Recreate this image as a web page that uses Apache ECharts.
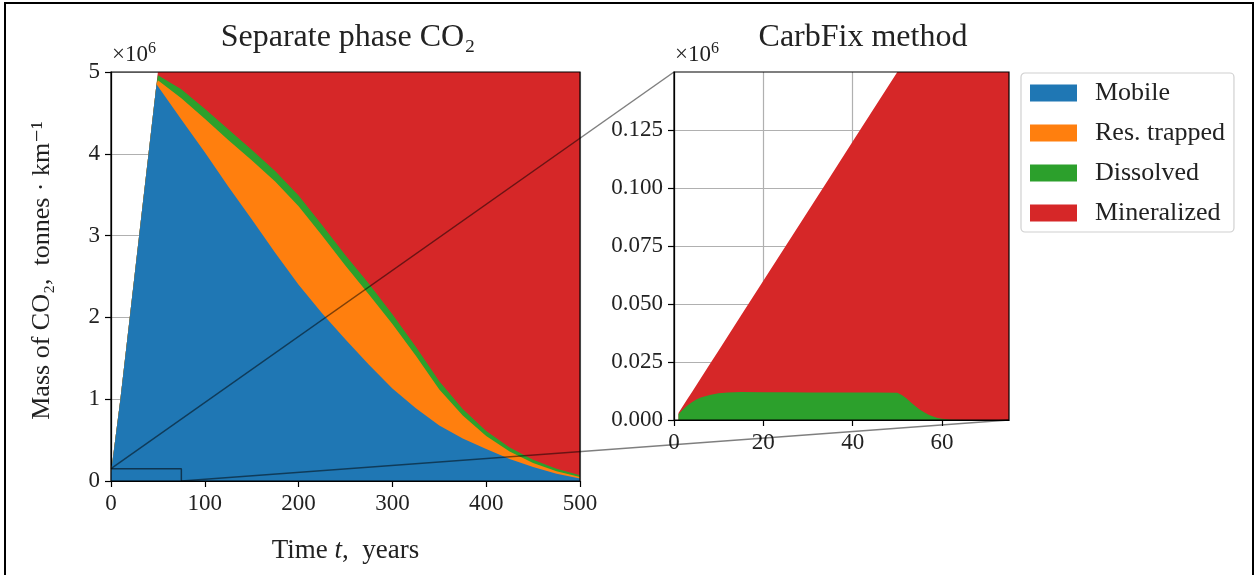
<!DOCTYPE html>
<html lang="en">

<head>
    <meta charset="UTF-8">
    <title>CO2 trapping</title>
    <script src="https://cdnjs.cloudflare.com/ajax/libs/echarts/6.0.0/echarts.min.js"></script>
    <style>
        html, body { margin: 0; padding: 0; background: #fff; }
        #echart { width: 1258px; height: 575px; }
    </style>
</head>

<body>
    <div id="echart"></div>

    <script>
        // left panel: separate phase CO2 (values in 1e6 tonnes/km)
        const timeLeft = [0, 10, 20, 30, 40, 48.5, 50, 75, 100, 125, 150, 175, 200, 225, 250, 275, 300, 325, 350, 375, 400, 425, 450, 475, 500];
        const mobile = [0.1, 1.0, 2.0, 3.0, 4.0, 4.85, 4.83, 4.42, 4.02, 3.60, 3.20, 2.79, 2.40, 2.05, 1.73, 1.42, 1.13, 0.89, 0.68, 0.52, 0.39, 0.27, 0.17, 0.09, 0.03];
        const trapped = [0, 0, 0, 0, 0, 0, 0.07, 0.26, 0.41, 0.57, 0.72, 0.87, 0.96, 0.95, 0.90, 0.86, 0.79, 0.64, 0.44, 0.28, 0.16, 0.09, 0.05, 0.03, 0.02];
        const dissolved = [0, 0, 0, 0, 0, 0, 0.06, 0.11, 0.12, 0.13, 0.13, 0.13, 0.13, 0.13, 0.13, 0.13, 0.12, 0.11, 0.10, 0.08, 0.06, 0.05, 0.04, 0.03, 0.02];
        const mineralized = [0, 0, 0, 0, 0, 0, 0.04, 0.21, 0.45, 0.70, 0.95, 1.21, 1.51, 1.87, 2.24, 2.59, 2.96, 3.36, 3.78, 4.12, 4.39, 4.59, 4.74, 4.85, 4.93];

        // right panel: CarbFix method
        const timeRight = [1, 2, 3, 4, 5, 6, 8, 10, 12, 15, 20, 25, 30, 35, 40, 45, 50, 51, 52, 53, 54, 55, 56, 57, 58, 59, 60, 62, 65, 70, 75];
        const dissolvedCF = [0.0025, 0.0045, 0.0062, 0.0077, 0.0088, 0.0097, 0.0108, 0.0115, 0.0119, 0.0121, 0.0120, 0.0120, 0.0119, 0.0119, 0.0118, 0.0118, 0.0117, 0.0108, 0.0094, 0.0076, 0.0060, 0.0045, 0.0033, 0.0023, 0.0015, 0.0009, 0.0005, 0.0001, 0, 0, 0];
        const mineralizedCF = [0.0005, 0.0015, 0.0028, 0.0043, 0.0062, 0.0083, 0.0132, 0.0185, 0.0241, 0.0329, 0.0480, 0.0630, 0.0781, 0.0931, 0.1082, 0.1232, 0.1383, 0.1392, 0.1406, 0.1424, 0.1440, 0.1455, 0.1467, 0.1477, 0.1485, 0.1491, 0.1495, 0.1499, 0.15, 0.15, 0.15];

        // zoom box shown on the left panel
        const zoomX = [0, 75];
        const zoomY = [0, 0.15];

        const leftXTicks = [0, 100, 200, 300, 400, 500];
        const leftYTicks = [0, 1, 2, 3, 4, 5];
        const rightXTicks = [0, 20, 40, 60];
        const rightYTicks = [0, 0.025, 0.05, 0.075, 0.1, 0.125];

        const names = ['Mobile', 'Res. trapped', 'Dissolved', 'Mineralized'];
        const colors = ['#1f77b4', '#ff7f0e', '#2ca02c', '#d62728'];

        const serif = '"Liberation Serif", "DejaVu Serif", serif';

        const dom = document.querySelector('#echart');
        const myChart = echarts.init(dom);

        // running sums so each area can be painted from zero, top layer last
        function cumulate(layers) {
            const out = [];
            let run = layers[0].map(() => 0);
            layers.forEach(l => {
                run = run.map((v, i) => v + l[i]);
                out.push(run);
            });
            return out;
        }
        const cumLeft = cumulate([mobile, trapped, dissolved, mineralized]);
        const cumRight = cumulate([dissolvedCF, mineralizedCF]);

        const pairs = (xs, ys) => xs.map((x, i) => [x, ys[i]]);

        function areaSeries(name, color, xs, ys, idx) {
            return {
                type: 'line',
                name: name,
                xAxisIndex: idx,
                yAxisIndex: idx,
                color: color,
                showSymbol: false,
                symbol: 'none',
                animation: false,
                lineStyle: { width: 0 },
                areaStyle: { color: color, opacity: 1, origin: 'start' },
                z: 2,
                data: pairs(xs, ys)
            };
        }

        function axisCommon() {
            return {
                axisLine: { show: true, lineStyle: { color: '#000', width: 1.2 } },
                axisTick: { show: true, length: 6, lineStyle: { color: '#000', width: 1.2 } },
                axisLabel: { color: '#222', fontFamily: serif, fontSize: 23, margin: 11 },
                splitLine: { show: true, lineStyle: { color: '#b0b0b0', width: 1.2 } }
            };
        }

        const titleStyle = { fontFamily: serif, fontSize: 32, fontWeight: 'normal', color: '#222' };

        const option = {
            animation: false,
            title: [
                { text: 'Separate phase CO₂', left: 343, top: 17, textAlign: 'center', textStyle: titleStyle },
                { text: 'CarbFix method', left: 858, top: 17, textAlign: 'center', textStyle: titleStyle }
            ],
            legend: {
                data: names.map((n, i) => ({ name: n, itemStyle: { color: colors[i] } })),
                orient: 'vertical',
                left: 1021, top: 73,
                icon: 'rect',
                itemWidth: 47, itemHeight: 17, itemGap: 14,
                padding: [7, 9, 6, 9],
                borderColor: '#d0d0d0', borderWidth: 1.2, borderRadius: 4,
                backgroundColor: 'rgba(255,255,255,0.8)',
                textStyle: { fontFamily: serif, fontSize: 26, lineHeight: 25, color: '#222', padding: [0, 0, 0, 13] },
                selectedMode: false
            },
            grid: [
                { left: 111, top: 72, width: 469, height: 409, show: true, z: 3, borderColor: '#000', borderWidth: 1.2, backgroundColor: 'transparent' },
                { left: 674, top: 72, width: 335, height: 348, show: true, z: 3, borderColor: '#000', borderWidth: 1.2, backgroundColor: 'transparent' }
            ],
            xAxis: [
                Object.assign(axisCommon(), {
                    type: 'value', gridIndex: 0, min: 0, max: 500, interval: 100,
                    name: 'Time {i|t},  years',
                    nameLocation: 'middle', nameGap: 56,
                    nameTextStyle: {
                        fontFamily: serif, fontSize: 27, color: '#222',
                        rich: { i: { fontFamily: serif, fontStyle: 'italic', fontSize: 27, color: '#222' } }
                    }
                }),
                Object.assign(axisCommon(), {
                    type: 'value', gridIndex: 1, min: 0, max: 75, interval: 20
                })
            ],
            yAxis: [
                Object.assign(axisCommon(), {
                    type: 'value', gridIndex: 0, min: 0, max: 5, interval: 1,
                    name: 'Mass of CO₂,  tonnes · km⁻¹',
                    nameLocation: 'middle', nameGap: 56,
                    nameTextStyle: { fontFamily: serif, fontSize: 26, color: '#222', padding: [0, 0, 0, 12] }
                }),
                Object.assign(axisCommon(), {
                    type: 'value', gridIndex: 1, min: 0, max: 0.15, interval: 0.025
                })
            ],
            series: [
                // painted back to front: total first, mobile last
                areaSeries(names[3], colors[3], timeLeft, cumLeft[3], 0),
                areaSeries(names[2], colors[2], timeLeft, cumLeft[2], 0),
                areaSeries(names[1], colors[1], timeLeft, cumLeft[1], 0),
                areaSeries(names[0], colors[0], timeLeft, cumLeft[0], 0),
                areaSeries(names[3], colors[3], timeRight, cumRight[1], 1),
                areaSeries(names[2], colors[2], timeRight, cumRight[0], 1),
                {
                    type: 'line',
                    name: 'zoom',
                    xAxisIndex: 0, yAxisIndex: 0,
                    symbol: 'none', animation: false, z: 5,
                    lineStyle: { color: 'rgba(0,0,0,0.55)', width: 1.5 },
                    data: [[zoomX[0], zoomY[1]], [zoomX[1], zoomY[1]], [zoomX[1], zoomY[0]]]
                }
            ]
        };

        // tick label sets
        option.xAxis[0].axisLabel.customValues = leftXTicks;
        option.xAxis[0].axisTick.customValues = leftXTicks;
        option.yAxis[0].axisLabel.customValues = leftYTicks;
        option.yAxis[0].axisTick.customValues = leftYTicks;
        option.xAxis[1].axisLabel.customValues = rightXTicks;
        option.xAxis[1].axisTick.customValues = rightXTicks;
        option.yAxis[1].axisLabel.customValues = rightYTicks;
        option.yAxis[1].axisTick.customValues = rightYTicks;
        option.yAxis[1].axisLabel.formatter = (v) => v.toFixed(3);

        myChart.setOption(option);

        // connector lines of the zoom inset, from data coords of both panels
        const a1 = myChart.convertToPixel({ xAxisIndex: 0, yAxisIndex: 0 }, [zoomX[0], zoomY[1]]);
        const b1 = myChart.convertToPixel({ xAxisIndex: 1, yAxisIndex: 1 }, [zoomX[0], zoomY[1]]);
        const a2 = myChart.convertToPixel({ xAxisIndex: 0, yAxisIndex: 0 }, [zoomX[1], zoomY[0]]);
        const b2 = myChart.convertToPixel({ xAxisIndex: 1, yAxisIndex: 1 }, [zoomX[1], zoomY[0]]);
        const tl0 = myChart.convertToPixel({ xAxisIndex: 0, yAxisIndex: 0 }, [0, 5]);
        const tl1 = myChart.convertToPixel({ xAxisIndex: 1, yAxisIndex: 1 }, [0, 0.15]);

        const supRich = { s: { fontSize: 16, fontFamily: serif, fill: '#222', padding: [0, 0, 11, 0] } };
        const connStyle = { stroke: 'rgba(0,0,0,0.5)', lineWidth: 1.5 };
        myChart.setOption({
            graphic: [
                { type: 'line', z: 20, shape: { x1: a1[0], y1: a1[1], x2: b1[0], y2: b1[1] }, style: connStyle },
                { type: 'line', z: 20, shape: { x1: a2[0], y1: a2[1], x2: b2[0], y2: b2[1] }, style: connStyle },
                {
                    type: 'text', left: tl0[0] + 1, top: tl0[1] - 31, z: 20,
                    style: { text: '×10{s|6}', rich: supRich, font: '23px ' + serif, fill: '#222' }
                },
                {
                    type: 'text', left: tl1[0] + 1, top: tl1[1] - 31, z: 20,
                    style: { text: '×10{s|6}', rich: supRich, font: '23px ' + serif, fill: '#222' }
                },
                { type: 'rect', z: 0, shape: { x: 5, y: 3, width: 1248, height: 600 }, style: { fill: 'none', stroke: '#000', lineWidth: 2 } }
            ]
        });
    </script>
</body>

</html>
